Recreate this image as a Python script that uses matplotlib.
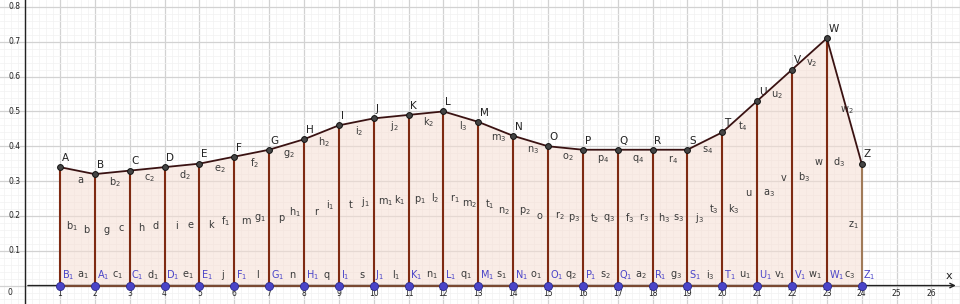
import matplotlib
matplotlib.use("Agg")
import matplotlib.pyplot as plt
import numpy as np

# data
xs = list(range(1, 25))
heights = [0.34, 0.32, 0.33, 0.34, 0.35, 0.37, 0.39, 0.42, 0.46, 0.48, 0.49, 0.50,
           0.47, 0.43, 0.40, 0.39, 0.39, 0.39, 0.39, 0.44, 0.53, 0.62, 0.71, 0.35]
point_names = list("ABCDEFGHIJKLMNOPQRSTUVWZ")
base_names = ["B1", "A1", "C1", "D1", "E1", "F1", "G1", "H1", "I1", "J1", "K1", "L1",
              "M1", "N1", "O1", "P1", "Q1", "R1", "S1", "T1", "U1", "V1", "W1", "Z1"]
top_seg_labels = ["a", "b2", "c2", "d2", "e2", "f2", "g2", "h2", "i2", "j2", "k2", "l3",
                  "m3", "n3", "o2", "p4", "q4", "r4", "s4", "t4", "u2", "v2", "w2"]
bottom_seg_labels = ["a1", "c1", "d1", "e1", "j", "l", "n", "q", "s", "l1", "n1", "q1",
                     "s1", "o1", "q2", "s2", "a2", "g3", "i3", "u1", "v1", "w1", "c3"]
left_labels = [None, "b", "c", "d", "e", "f1", "g1", "h1", "i1", "j1", "k1", "l2",
               "m2", "n2", "o", "p3", "q3", "r3", "s3", "t3", "u", "v", "w", "z1"]
right_labels = ["b1", "g", "h", "i", "k", "m", "p", "r", "t", "m1", "p1", "r1",
                "t1", "p2", "r2", "t2", "f3", "h3", "j3", "k3", "a3", "b3", "d3", None]

x_ticks = list(range(1, 27))
y_ticks = [0.1, 0.2, 0.3, 0.4, 0.5, 0.6, 0.7, 0.8]

curve_col = "#3a1212"
vline_col = "#7e2a12"
base_col = "#4a44c8"
fill_col = "#f5ddd2"
text_col = "#3a3a3a"


def fmt(name):
    # "b1" -> b with subscript 1
    if len(name) > 1:
        return r"$\mathregular{%s_{%s}}$" % (name[0], name[1:])
    return name


fig = plt.figure(figsize=(9.6, 3.04), dpi=100)
ax = fig.add_axes([0, 0, 1, 1])
ax.set_xlim(-0.72, 26.82)
ax.set_ylim(-0.053, 0.82)
ax.axis("off")

# grid (major every 1 / 0.1, minor every 0.2 / 0.02)
for gx in np.arange(-0.6, 26.82, 0.2):
    major = abs(gx - round(gx)) < 1e-6
    ax.axvline(gx, color="#d2d2d2" if major else "#f1f1f1",
               lw=0.9 if major else 0.5, zorder=0)
for gy in np.arange(-0.04, 0.82, 0.02):
    major = abs(gy * 10 - round(gy * 10)) < 1e-6
    ax.axhline(gy, color="#d2d2d2" if major else "#f1f1f1",
               lw=0.9 if major else 0.5, zorder=0)

# axes
ax.plot([0, 0], [-0.053, 0.82], color="#222222", lw=1.0, zorder=2)
ax.annotate("", xy=(26.78, 0), xytext=(0, 0),
            arrowprops=dict(arrowstyle="->", color="#222222", lw=1.0,
                            mutation_scale=8), zorder=2)
ax.text(26.4, 0.02, "x", fontsize=8, color="#222222")
for t in x_ticks:
    ax.text(t, -0.022, str(t), fontsize=5.5, ha="center", va="center", color="#222222")
for t in y_ticks:
    ax.text(-0.13, t, f"{t:.1f}", fontsize=5.5, ha="right", va="center", color="#222222")
ax.text(-0.36, -0.02, "0", fontsize=5.5, ha="right", va="center", color="#222222")

# filled area under the polygon
ax.fill_between(xs, heights, 0, color=fill_col, alpha=0.55, lw=0, zorder=1)

# vertical segments
for i, (x, h) in enumerate(zip(xs, heights)):
    col = "#a07a58" if i == len(xs) - 1 else vline_col
    ax.plot([x, x], [0, h], color=col, lw=1.5, zorder=3)
ax.plot([xs[0], xs[-1]], [0, 0], color="#7a4a32", lw=1.6, zorder=3)

# top curve and points
ax.plot(xs, heights, color=curve_col, lw=1.3, zorder=4)
ax.plot(xs, heights, "o", ms=4.2, mfc="#444444", mec="#111111", mew=0.7, zorder=5)
ax.plot(xs, [0] * len(xs), "o", ms=5.8, mfc=base_col, mec="#2a2a8a", mew=0.6, zorder=5)

# point labels
for x, h, name in zip(xs, heights, point_names):
    ax.text(x + 0.05, h + 0.012, name, fontsize=7.5, color="#222222", va="bottom")
for x, name in zip(xs, base_names):
    ax.text(x + 0.05, 0.011, fmt(name), fontsize=7, color=base_col, va="bottom")

# segment labels
for i, name in enumerate(top_seg_labels):
    mx = (xs[i] + xs[i + 1]) / 2
    my = (heights[i] + heights[i + 1]) / 2
    ax.text(mx + 0.08, my - 0.027, fmt(name), fontsize=7, color=text_col,
            ha="center", va="center")
for i, name in enumerate(bottom_seg_labels):
    mx = (xs[i] + xs[i + 1]) / 2
    ax.text(mx + 0.16, 0.031, fmt(name), fontsize=7, color=text_col,
            ha="center", va="center")
for x, h, lab in zip(xs, heights, left_labels):
    if lab:
        ax.text(x - 0.25, h / 2, fmt(lab), fontsize=7, color=text_col,
                ha="center", va="center")
for x, h, lab in zip(xs, heights, right_labels):
    if lab:
        ax.text(x + 0.34, h / 2, fmt(lab), fontsize=7, color=text_col,
                ha="center", va="center")

fig.savefig("out.png", dpi=100)
